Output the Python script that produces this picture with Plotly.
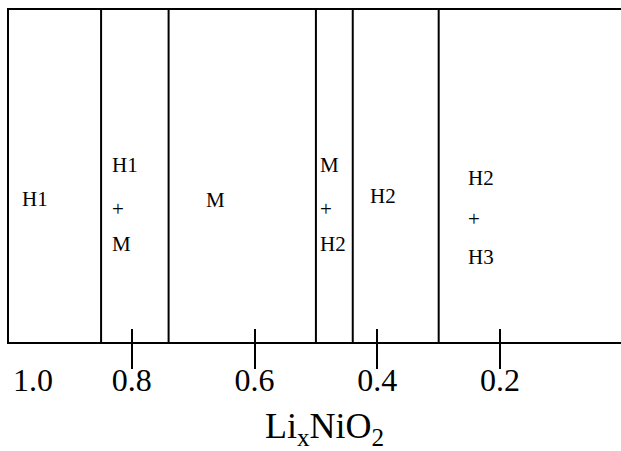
import plotly.graph_objects as go

# Phase boundaries (x in LixNiO2)
boundaries = [0.85, 0.74, 0.50, 0.44, 0.30]

# Tick values / labels
tick_vals = [0.8, 0.6, 0.4, 0.2]
tick_text = ["0.8", "0.6", "0.4", "0.2"]
first_label = "1.0"

# Phase region labels (stacked lines)
region_labels = [["H1"], ["H1", "+", "M"], ["M"], ["M", "+", "H2"], ["H2"], ["H2", "+", "H3"]]
region_x = [0.958, 0.836, 0.663, 0.497, 0.391, 0.2556]
region_anchor = ["center", "left", "center", "left", "center", "left"]
region_y = [[0.431], [0.532, 0.40, 0.296], [0.428], [0.532, 0.40, 0.296], [0.44], [0.495, 0.37, 0.256]]

FONT = "Liberation Serif, Times New Roman, serif"

fig = go.Figure()

bx, by = [], []
for b in boundaries:
    bx += [b, b, None]
    by += [0, 1, None]
fig.add_trace(go.Scatter(x=bx, y=by, mode="lines", line=dict(color="black", width=2),
                         hoverinfo="skip", showlegend=False))
fig.add_trace(go.Scatter(x=[tick_vals[0]], y=[0], xaxis="x2", mode="markers",
                         marker=dict(opacity=0), hoverinfo="skip", showlegend=False))

annotations = []
for labels, x, anc, ys in zip(region_labels, region_x, region_anchor, region_y):
    for lab, y in zip(labels, ys):
        annotations.append(dict(x=x, y=y, xref="x", yref="paper", text=lab, showarrow=False,
                                xanchor=anc, yanchor="middle",
                                font=dict(family=FONT, size=21, color="black")))

annotations.append(dict(x=0.961, y=-0.1145, xref="x", yref="paper", text=first_label,
                        showarrow=False, xanchor="center", yanchor="middle",
                        font=dict(family=FONT, size=32, color="black")))
annotations.append(dict(x=0.5155, y=-0.262, xref="paper", yref="paper",
                        text="Li<sub>x</sub>NiO<sub>2</sub>", showarrow=False,
                        xanchor="center", yanchor="middle",
                        font=dict(family=FONT, size=36, color="black")))

fig.update_layout(
    width=621, height=451,
    margin=dict(l=9, r=0, t=10, b=109),
    paper_bgcolor="white", plot_bgcolor="white",
    showlegend=False,
    annotations=annotations,
    xaxis=dict(range=[1.0, 0.003], showline=True, linecolor="black", linewidth=2, mirror=True,
               ticks="outside", ticklen=25, tickwidth=1.5, tickcolor="black",
               tickvals=tick_vals, ticktext=tick_text, ticklabelstandoff=-16,
               tickfont=dict(family=FONT, size=32, color="black"),
               showgrid=False, zeroline=False),
    xaxis2=dict(overlaying="x", matches="x", anchor="y", side="bottom",
                ticks="inside", ticklen=13, tickwidth=1.5, tickcolor="black",
                tickvals=tick_vals, showticklabels=False, showline=False,
                showgrid=False, zeroline=False),
    yaxis=dict(range=[0, 1], showline=True, linecolor="black", linewidth=2,
               ticks="", showticklabels=False, showgrid=False, zeroline=False),
)

fig.write_html("out.html", config={"displayModeBar": False},
               post_script="document.body.style.margin='0';document.body.style.overflow='hidden';")
